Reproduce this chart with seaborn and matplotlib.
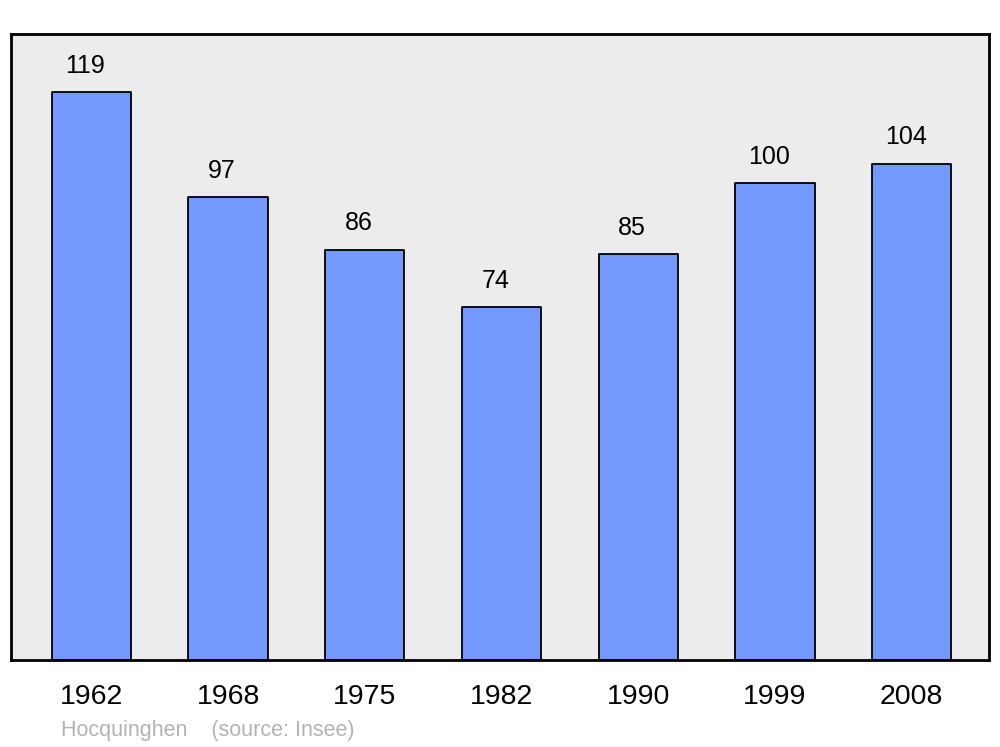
import matplotlib
matplotlib.use("Agg")
import matplotlib.pyplot as plt
import seaborn as sns
import pandas as pd

years = ["1962", "1968", "1975", "1982", "1990", "1999", "2008"]
population = [119, 97, 86, 74, 85, 100, 104]

data = pd.DataFrame({"Year": years, "Population": population})

sns.set_style("white")
plt.rcParams["font.family"] = ["Liberation Sans", "DejaVu Sans"]

fig = plt.figure(figsize=(10, 7.47), dpi=100)
ax = fig.add_axes([0.011, 0.1165, 0.978, 0.838])
ax.set_facecolor("#ececec")

sns.barplot(x="Year", y="Population", data=data, color="#7399ff",
            saturation=1, width=0.58, edgecolor="black", linewidth=1.3, ax=ax)
for p in ax.patches:
    p.set_joinstyle("round")

# value labels above the bars (slightly left of centre, as in the original)
for i, v in enumerate(population):
    ax.text(i - 0.045, v + 3.0, str(v), ha="center", va="bottom",
            fontsize=18, color="black")

ax.set_xlim(-0.588, 6.565)
ax.set_ylim(0, 131.2)
ax.set_xlabel("")
ax.set_ylabel("")
ax.set_yticks([])
ax.tick_params(axis="x", length=0, pad=17, labelsize=20.5, labelcolor="black")
for s in ax.spines.values():
    s.set_visible(True)
    s.set_linewidth(2)
    s.set_color("black")
    s.set_joinstyle("round")

fig.text(0.061, 0.0215, "Hocquinghen    (source: Insee)", fontsize=15.5,
         color="#b3b3b3", ha="left", va="center")

fig.savefig("out.png", dpi=100)
